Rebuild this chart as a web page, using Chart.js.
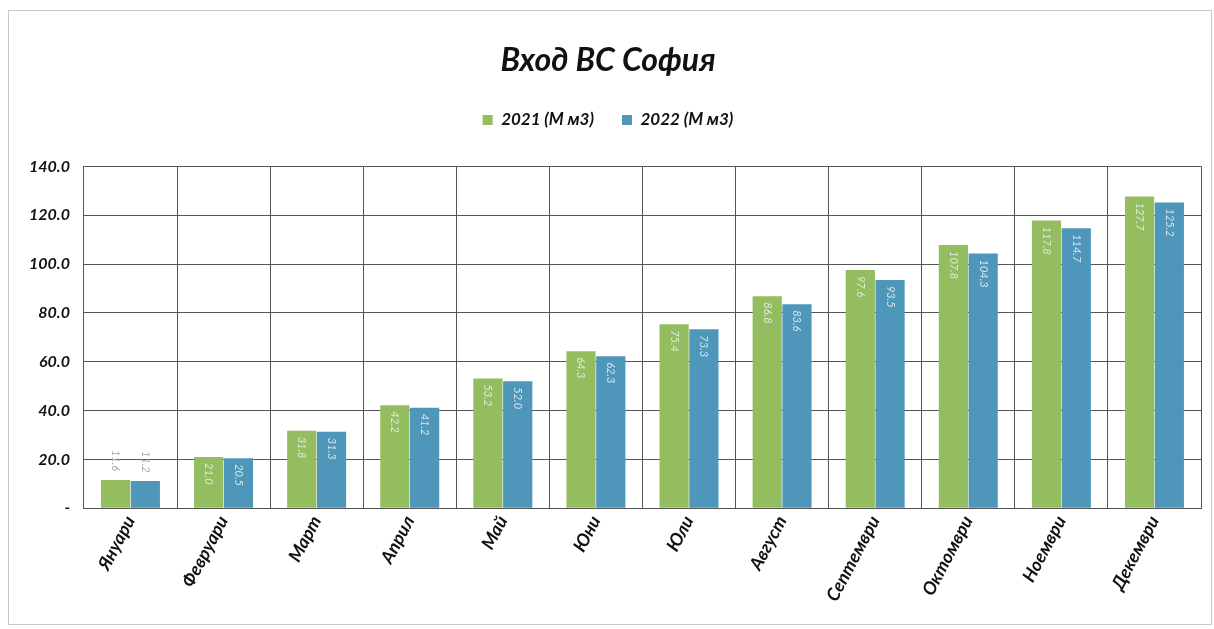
<!DOCTYPE html>
<html>
<head>
<meta charset="utf-8">
<script src="https://cdn.jsdelivr.net/npm/chart.js@4.4.0/dist/chart.umd.min.js"></script>
<style>
  body { margin: 0; background: #fff; }
  #wrap { position: absolute; left: 8px; top: 10px; width: 1204px; height: 615px; border: 1px solid #c8c8c8; box-sizing: border-box; }
  canvas { display: block; }
</style>
</head>
<body>
<div id="wrap"><canvas id="chart"></canvas></div>
<script>
// data
const months = ["Януари", "Февруари", "Март", "Април", "Май", "Юни", "Юли", "Август", "Септември", "Октомври", "Ноември", "Декември"];
const values2021 = [11.6, 21.0, 31.8, 42.2, 53.2, 64.3, 75.4, 86.8, 97.6, 107.8, 117.8, 127.7];
const values2022 = [11.2, 20.5, 31.3, 41.2, 52.0, 62.3, 73.3, 83.6, 93.5, 104.3, 114.7, 125.2];
const yTicks = [0, 20, 40, 60, 80, 100, 120, 140];

const FONT = "Lato, 'Open Sans', sans-serif";

// rotated value labels inside the bars
const barLabels = {
    id: 'barLabels',
    afterDatasetsDraw(chart) {
        const ctx = chart.ctx;
        ctx.save();
        ctx.font = "italic 11px " + FONT;
        chart.data.datasets.forEach((ds, i) => {
            chart.getDatasetMeta(i).data.forEach((bar, j) => {
                const v = ds.data[j];
                const inside = v > 15;
                ctx.save();
                ctx.translate(bar.x, inside ? bar.y + 6 : bar.y - 30);
                ctx.rotate(Math.PI / 2);
                ctx.fillStyle = inside ? 'rgba(235,240,240,0.85)' : '#aaa';
                ctx.textAlign = 'left';
                ctx.textBaseline = 'middle';
                ctx.fillText(v.toFixed(1), 0, 0);
                ctx.restore();
            });
        });
        ctx.restore();
    }
};

// extra room under the legend
const legendGap = {
    id: 'legendGap',
    beforeInit(chart) {
        const fit = chart.legend.fit;
        chart.legend.fit = function () {
            fit.bind(chart.legend)();
            this.height += 28;
        };
    }
};

new Chart(document.getElementById('chart'), {
    type: 'bar',
    data: {
        labels: months,
        datasets: [
            { label: '2021 (М м3)', data: values2021, backgroundColor: '#93bd5e' },
            { label: '2022 (М м3)', data: values2022, backgroundColor: '#4e97bb' }
        ]
    },
    options: {
        responsive: true,
        maintainAspectRatio: false,
        animation: false,
        layout: { padding: { left: 6, right: 10, top: 30, bottom: 15 } },
        datasets: { bar: { categoryPercentage: 0.64, barPercentage: 0.98 } },
        plugins: {
            title: {
                display: true,
                text: 'Вход ВС София',
                color: '#111',
                font: { family: FONT, size: 32, weight: 'bold', style: 'italic' },
                padding: { top: 0, bottom: 4 }
            },
            legend: {
                display: true,
                labels: {
                    color: '#111',
                    font: { family: FONT, size: 17, weight: 'bold', style: 'italic' },
                    boxWidth: 10, boxHeight: 10, padding: 28
                }
            },
            tooltip: { enabled: false }
        },
        scales: {
            x: {
                grid: { color: '#555', lineWidth: 1, offset: true, drawTicks: false },
                border: { color: '#555' },
                ticks: {
                    color: '#111',
                    minRotation: 62, maxRotation: 62,
                    padding: 4,
                    font: { family: FONT, size: 18, weight: 'bold', style: 'italic' }
                }
            },
            y: {
                min: 0, max: 140,
                afterBuildTicks: axis => { axis.ticks = yTicks.map(v => ({ value: v })); },
                grid: { color: '#555', lineWidth: 1, drawTicks: false },
                border: { color: '#555' },
                ticks: {
                    color: '#111',
                    padding: 14,
                    font: { family: FONT, size: 16, weight: 'bold', style: 'italic' },
                    callback: v => v === 0 ? '-' : v.toFixed(1)
                }
            }
        }
    },
    plugins: [barLabels, legendGap]
});
</script>
</body>
</html>
